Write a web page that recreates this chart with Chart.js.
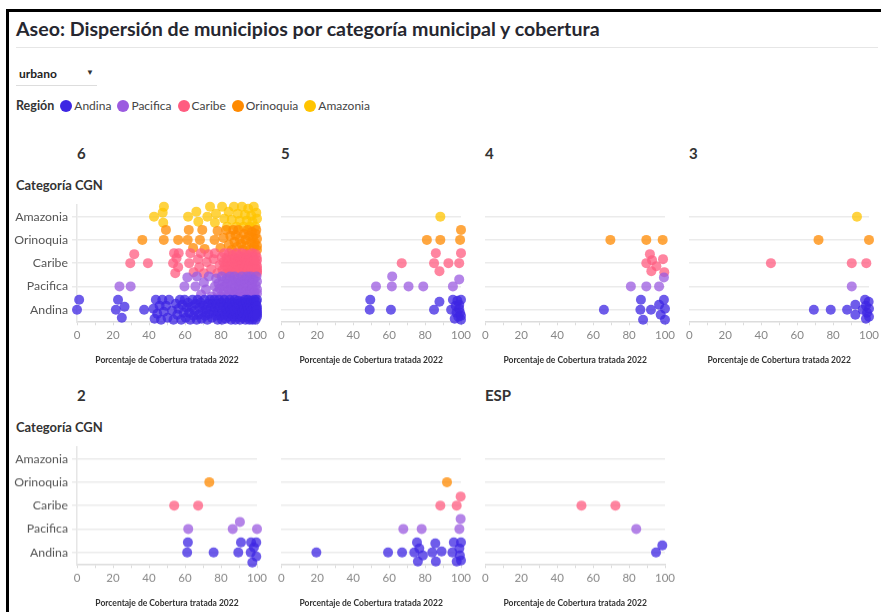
<!DOCTYPE html>
<html>
<head>
<meta charset="utf-8">
<script src="https://cdn.jsdelivr.net/npm/chart.js@4.4.1/dist/chart.umd.min.js"></script>
<style>
  body { margin: 0; width: 881px; height: 612px; background: #fff; overflow: hidden; position: relative; font-family: Lato, sans-serif; color: #31333f; }
  .abs { position: absolute; }
  .frame { position: absolute; background: #000; }
  h1 { position: absolute; left: 16px; top: 17px; margin: 0; font-size: 19.6px; font-weight: 700; color: #262730; white-space: nowrap; }
  .rule { left: 16px; top: 47px; width: 862px; height: 1px; background: #e6e6e6; }
  .sel { left: 19px; top: 66px; font-size: 12px; font-weight: 700; color: #222; }
  .caret { left: 86px; top: 67px; font-size: 8px; color: #333; }
  .selLine { left: 16px; top: 85px; width: 81px; height: 1px; background: #ddd; }
  .legend { left: 16px; top: 98px; font-size: 12px; color: #444; display: flex; align-items: center; white-space: nowrap; }
  .legend b { color: #333; margin-right: 2px; font-size: 12.5px; }
  .legend i { display: inline-block; width: 12px; height: 12px; border-radius: 50%; margin: 0 2px 0 4px; }
  .legend span { margin-right: 2px; }
  .ptitle { font-size: 15px; font-weight: 700; color: #333; }
  .ytitle { font-size: 13px; font-weight: 700; color: #333; }
</style>
</head>
<body>
<div class="frame" style="left:7px;top:9px;width:874px;height:3px"></div>
<div class="frame" style="left:6px;top:9px;width:3px;height:603px"></div>
<h1>Aseo: Dispersión de municipios por categoría municipal y cobertura</h1>
<div class="abs rule"></div>
<div class="abs sel">urbano</div>
<div class="abs caret">▼</div>
<div class="abs selLine"></div>
<div class="abs legend" id="legend"><b>Región</b></div>
<div id="panels"></div>
<script>
const regions = ["Andina", "Pacifica", "Caribe", "Orinoquia", "Amazonia"];
const colors = ["#3d26e3", "#9b5be0", "#ff5c80", "#ff8a00", "#ffc400"];
const categories = ["6", "5", "4", "3", "2", "1", "ESP"];
const xTicks = [0, 20, 40, 60, 80, 100];

// values per category, in region order: Andina, Pacifica, Caribe, Orinoquia, Amazonia
const cat6 = [
  [0, 1.2, 21.6, 22.8, 24.9, 26.4, 37.3, 42.5, 43.1, 43.8, 44.6, 45.9, 46.7, 47.4, 48.2, 49.5, 50.3, 51.1, 52.8, 53.6, 54.9, 55.7,
   56.4, 57.2, 57.9, 58.5, 59.3, 59.8, 60.4, 61.0, 61.7, 62.3, 62.9, 63.6, 64.2, 64.8, 65.3, 65.9, 66.5, 67.0, 67.6, 68.1, 68.7,
   69.2, 69.8, 70.3, 70.8, 71.3, 71.9, 72.4, 72.9, 73.4, 73.9, 74.4, 74.9, 75.3, 75.8, 76.3, 76.7, 77.2, 77.6, 78.1, 78.5, 78.9,
   79.4, 79.8, 80.2, 80.6, 81.0, 81.4, 81.8, 82.2, 82.6, 83.0, 83.4, 83.8, 84.1, 84.5, 84.9, 85.2, 85.6, 85.9, 86.3, 86.6, 87.0,
   87.3, 87.7, 88.0, 88.3, 88.7, 89.0, 89.3, 89.6, 90.0, 90.3, 90.6, 90.9, 91.2, 91.5, 91.8, 92.1, 92.4, 92.7, 93.0, 93.3, 93.6,
   93.9, 94.1, 94.4, 94.7, 95.0, 95.2, 95.5, 95.8, 96.0, 96.3, 96.5, 96.8, 97.0, 97.3, 97.5, 97.8, 98.0, 98.2, 98.5, 98.7, 98.9,
   99.2, 99.4, 99.6, 99.8, 100, 100, 100, 100, 100, 100],
  [23.6, 29.8, 59.7, 61.3, 65.8, 66.6, 68.9, 70.5, 71.6, 73.2, 74.9, 76.6, 77.3, 78.0, 78.6, 79.2, 79.8, 80.4, 80.9,
   81.5, 82.0, 82.6, 83.1, 83.6, 84.1, 84.6, 85.1, 85.6, 86.1, 86.6, 87.1, 87.5, 88.0, 88.5, 88.9, 89.4, 89.8, 90.3, 90.7, 91.2,
   91.6, 92.0, 92.5, 92.9, 93.3, 93.7, 94.1, 94.5, 94.9, 95.3, 95.7, 96.1, 96.5, 96.9, 97.3, 97.7, 98.1, 98.5, 98.9, 99.3, 99.7,
   100, 100, 100],
  [29.6, 31.8, 39.4, 53.4, 53.9, 54.6, 55.3, 56.2, 56.5, 62.3, 63.0, 64.8, 67.2, 67.9, 68.8, 70.5, 72.1, 73.0, 74.5, 75.9, 76.6,
   78.0, 79.2, 80.4, 80.9, 81.3, 81.8, 82.2, 82.7, 83.1, 83.6, 84.0, 84.4, 84.9, 85.3,
   85.7, 86.1, 86.5, 86.9, 87.3, 87.7, 88.1, 88.5, 88.9, 89.2, 89.6, 90.0, 90.4, 90.7, 91.1, 91.5, 91.8, 92.2, 92.5, 92.9, 93.2,
   93.6, 93.9, 94.2, 94.6, 94.9, 95.2, 95.5, 95.9, 96.2, 96.5, 96.8, 97.1, 97.4, 97.7, 98.0, 98.3, 98.6, 98.9, 99.2, 99.5, 99.8,
   100, 100, 100, 100, 100],
  [36.3, 48.2, 49.4, 56.2, 61.5, 62.1, 64.5, 68.3, 69.6, 70.9, 76.4, 78.1, 79.7, 81.4, 82.9, 84.3, 85.2, 86.0, 86.8, 87.5,
   88.1, 88.9, 89.6, 90.4, 91.2, 92.0, 92.8, 93.6, 94.2, 94.8, 95.5, 96.1, 96.7, 97.2, 97.8, 98.3, 98.8, 99.2, 99.6,
   100, 100, 100],
  [42.8, 47.6, 47.9, 48.3, 61.7, 66.3, 67.4, 72.4, 73.9, 76.6, 77.2, 80.6, 81.8, 83.4, 84.2, 86.0, 87.2, 88.6, 89.3, 90.4, 91.6,
   92.6, 93.3, 94.3, 95.1, 96.0, 96.8, 97.5, 98.2, 99.0, 99.6, 100]
];
const cat5 = [
  [49.2, 49.5, 61, 85, 88, 94.5, 95.5, 96.5, 97, 97.5, 98, 98.5, 99, 99, 99.5, 100, 100, 100],
  [52.7, 61.5, 61.7, 70.8, 79, 95.5, 99],
  [67, 85, 86, 88, 93, 99, 100],
  [81, 88.5, 99.5, 100],
  [88.5]
];
const cat4 = [
  [66, 86.3, 86.6, 87.8, 92.2, 96.7, 97.6, 99.4, 100, 100],
  [81, 89.6, 96.7, 99.4],
  [89.6, 91.6, 92.4, 92.8, 95.2, 98.9, 99.6],
  [69.6, 89.6, 98.7],
  []
];
const cat3 = [
  [69.3, 78.7, 87.8, 92.4, 92.4, 96.5, 97.8, 98.3, 98.3, 98.9, 99.8, 100, 100],
  [90.4],
  [45.4, 90.4, 98.5],
  [71.9, 100],
  [93.3]
];
const cat2 = [
  [61.2, 61.6, 75.9, 89.6, 91.1, 96.5, 96.7, 97.4, 98.3, 99.6, 99.6],
  [61.8, 86.5, 90.5, 100],
  [54, 67.3],
  [73.5],
  []
];
const cat1 = [
  [19.5, 59.4, 67.2, 74, 75.5, 76, 76.8, 78.8, 84, 85.7, 86, 89.2, 95.2, 96, 97.6, 99.1, 99.4, 100, 100],
  [67.9, 78.1, 99.1, 99.8],
  [88.5, 97.6, 99.8],
  [92.2],
  []
];
const catESP = [
  [95, 98.5],
  [84],
  [53.5, 72.4],
  [],
  []
];
const catData = [cat6, cat5, cat4, cat3, cat2, cat1, catESP];

// layout of the facets
const areaW = 180, areaH = 116.3;
const panelPos = [
  {x: 77, y: 205.2, labels: true}, {x: 281, y: 205.2}, {x: 485, y: 205.2}, {x: 689, y: 205.2},
  {x: 77, y: 447.4, labels: true}, {x: 281, y: 447.4}, {x: 485, y: 447.4}
];
const PX_X = areaW / 100, PX_Y = areaH / 5;
const R = 5, MIN_D = 9.4;
const CANDS = [0];
for (let i = 1; i <= 10; i++) CANDS.push(-i, i);

// beeswarm offsets so dots do not sit on top of each other
function swarm(values, row) {
  const placed = [], out = [];
  const sorted = values.slice().sort((a, b) => a - b);
  for (const v of sorted) {
    const px = v * PX_X;
    let best = 0, bestD = -1;
    for (const dy of CANDS) {
      let minD = Infinity;
      for (const p of placed) {
        const dx = p.x - px;
        if (Math.abs(dx) >= MIN_D) continue;
        const d = Math.hypot(dx, p.y - dy);
        if (d < minD) minD = d;
      }
      if (minD >= MIN_D) { best = dy; break; }
      if (minD > bestD) { bestD = minD; best = dy; }
    }
    placed.push({x: px, y: best});
    out.push({x: v, y: row - best / PX_Y});
  }
  return out;
}

function rgba(hex, a) {
  const n = parseInt(hex.slice(1), 16);
  return `rgba(${n >> 16},${(n >> 8) & 255},${n & 255},${a})`;
}

const legend = document.getElementById("legend");
regions.forEach((r, i) => {
  legend.insertAdjacentHTML("beforeend", `<i style="background:${colors[i]}"></i><span>${r}</span>`);
});

Chart.defaults.font.family = "Lato";
const panels = document.getElementById("panels");

categories.forEach((cat, k) => {
  const pos = panelPos[k];
  const yW = pos.labels ? 67 : 6;
  const padR = 14, padT = 12, xH = 44;

  const t = document.createElement("div");
  t.className = "abs ptitle";
  t.style.left = pos.x + "px";
  t.style.top = (pos.y - 61) + "px";
  t.textContent = cat;
  panels.appendChild(t);
  if (pos.labels) {
    const yt = document.createElement("div");
    yt.className = "abs ytitle";
    yt.style.left = "16px";
    yt.style.top = (pos.y - 28) + "px";
    yt.textContent = "Categoría CGN";
    panels.appendChild(yt);
  }

  const box = document.createElement("div");
  box.className = "abs";
  box.style.left = (pos.x - yW) + "px";
  box.style.top = (pos.y - padT) + "px";
  box.style.width = (yW + areaW + padR) + "px";
  box.style.height = (padT + areaH + xH) + "px";
  const canvas = document.createElement("canvas");
  box.appendChild(canvas);
  panels.appendChild(box);

  const datasets = regions.map((r, i) => ({
    label: r,
    data: swarm(catData[k][i], i),
    backgroundColor: rgba(colors[i], 0.75),
    borderWidth: 0,
    pointRadius: R,
    pointHoverRadius: R,
    clip: false
  }));

  new Chart(canvas, {
    type: "scatter",
    data: { datasets },
    options: {
      responsive: true,
      maintainAspectRatio: false,
      animation: false,
      layout: { padding: { left: 0, right: padR, top: padT, bottom: 0 } },
      plugins: { legend: { display: false }, tooltip: { enabled: false } },
      scales: {
        x: {
          type: "linear",
          min: 0,
          max: 100,
          afterBuildTicks: s => { s.ticks = [0, 10, 20, 30, 40, 50, 60, 70, 80, 90, 100].map(v => ({ value: v })); },
          afterFit: s => { s.height = xH; },
          ticks: {
            autoSkip: false,
            maxRotation: 0,
            padding: 3,
            color: "#888",
            font: { size: 11.5 },
            callback: v => xTicks.includes(v) ? String(v) : ""
          },
          grid: { drawOnChartArea: false, drawTicks: true, tickLength: 4, color: "#dcdcdc", lineWidth: 1 },
          border: { color: "#dcdcdc", width: 1.5 },
          title: {
            display: true,
            text: "Porcentaje de Cobertura tratada 2022",
            color: "#333",
            font: { size: 8.5, weight: "bold" },
            padding: { top: 0, bottom: 0 }
          }
        },
        y: {
          type: "linear",
          min: -0.5,
          max: 4.5,
          afterBuildTicks: s => { s.ticks = [0, 1, 2, 3, 4].map(v => ({ value: v })); },
          afterFit: s => { s.width = yW; },
          ticks: {
            display: !!pos.labels,
            padding: 4,
            color: "#555",
            font: { size: 12.3 },
            callback: v => regions[v]
          },
          grid: { color: "#ebebeb", lineWidth: 1.5, drawTicks: !!pos.labels, tickLength: 5 },
          border: { display: !!pos.labels, color: "#e6e6e6", width: 1.5 }
        }
      }
    }
  });
});
</script>
</body>
</html>
